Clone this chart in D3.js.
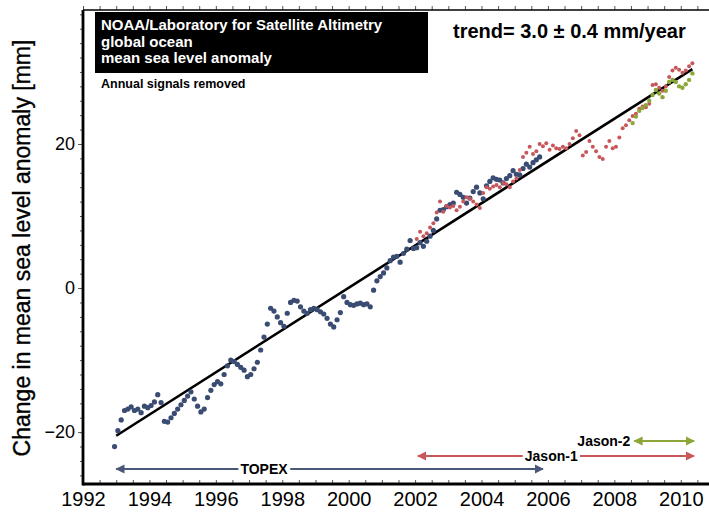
<!DOCTYPE html>
<html>
<head>
<meta charset="utf-8">
<script src="https://cdn.jsdelivr.net/npm/d3@7"></script>
<style>
  body { margin: 0; background: #fff; }
  svg { display: block; font-family: "Liberation Sans", Arial, sans-serif; }
</style>
</head>
<body>
<script>
// sampling of the altimetry series (every 0.1 year)
var step = 0.1;
var topexStart = 1992.95;
var topexValues = [-22.0, -19.8, -18.3, -17.0, -16.8, -16.5, -17.0, -16.8, -17.3, -16.4,
  -16.6, -16.3, -15.8, -14.8, -15.9, -18.5, -18.6, -18.0, -17.4, -16.8,
  -16.2, -15.6, -15.0, -14.4, -15.4, -16.4, -17.2, -16.8, -15.2, -14.2,
  -13.4, -13.0, -13.3, -12.0, -10.8, -10.0, -10.2, -10.6, -11.0, -11.4,
  -12.3, -12.0, -11.2, -10.3, -8.6, -6.8, -5.0, -2.8, -3.2, -4.0,
  -4.8, -5.3, -3.5, -2.0, -1.7, -1.8, -2.6, -3.2, -3.5, -3.0,
  -2.8, -3.0, -3.3, -3.6, -4.2, -5.0, -5.4, -4.4, -3.4, -1.2,
  -2.0, -2.3, -2.4, -2.2, -2.1, -2.3, -2.2, -2.6, -0.3, 1.0,
  1.6, 2.1, 2.8, 3.8, 4.3, 4.4, 3.6, 4.8, 5.4, 6.6,
  5.5, 5.6, 6.3, 5.8, 6.5, 7.2, 8.0, 9.6, 10.8, 10.9,
  11.3, 11.6, 11.8, 13.3, 13.0, 12.6, 11.8, 12.5, 13.4, 14.0,
  13.2, 12.4, 14.2, 14.8, 15.3, 15.1, 15.0, 14.6, 15.2, 15.6,
  16.3, 15.8, 15.7, 16.6, 17.2, 16.8, 17.4, 17.8, 18.2];

var jason1Start = 2002.05;
var jason1Values = [6.8, 7.8, 7.2, 7.6, 8.4, 9.0, 10.5, 12.0, 10.6, 11.4,
  11.2, 11.4, 10.8, 11.3, 12.0, 12.6, 12.4, 12.0, 11.6, 11.1,
  13.2, 14.0, 13.8, 14.1, 14.3, 14.0, 14.6, 14.4, 14.0, 14.8,
  15.2, 16.4, 18.2, 18.8, 19.6, 18.6, 19.0, 20.0, 19.7, 20.1,
  19.2, 19.8, 19.4, 19.3, 19.6, 19.4, 20.0, 20.8, 21.8, 21.2,
  18.4, 18.9, 20.4, 19.6, 19.0, 18.2, 17.9, 19.6, 20.4, 19.4,
  19.6, 20.9, 22.2, 22.6, 23.3, 23.9, 24.2, 24.9, 25.2, 25.1,
  25.6, 28.2, 28.3, 27.8, 27.4, 28.0, 29.3, 30.2, 30.6, 30.3,
  29.9, 30.2, 30.8, 31.2];

var jason2Start = 2008.55;
var jason2Values = [22.9, 23.8, 24.6, 25.0, 25.4, 26.0, 26.8, 27.5, 27.0, 26.5,
  27.4, 28.6, 28.9, 28.6, 28.0, 27.8, 28.3, 28.9, 29.8];

// linear trend end points
var trendYears = [1993.0, 2010.35];
var trendValues = [-20.5, 30.4];

// mission spans for the arrows
var missions = ["TOPEX", "Jason-1", "Jason-2"];
var missionSpans = [[1993.0, 2005.85], [2002.08, 2010.4], [2008.6, 2010.4]];

var xTicks = [1992, 1994, 1996, 1998, 2000, 2002, 2004, 2006, 2008, 2010];
var yTicks = [-20, 0, 20];

var titleLines = ["NOAA/Laboratory for Satellite Altimetry", "global ocean", "mean sea level anomaly"];

var W = 709, H = 512;
var svg = d3.select("body").append("svg")
    .attr("width", W)
    .attr("height", H);

var x = d3.scaleLinear().domain([1992, 2010.85]).range([83, 709]);
var y = d3.scaleLinear().domain([-27.2, 38.6]).range([484, 10]);

var blue = "#3a4c72", red = "#c8575b", green = "#8ca63a";

function series(start, vals) {
  return vals.map(function(v, i) { return {t: start + i * step, v: v}; });
}

// trend line
svg.append("line")
    .attr("x1", x(trendYears[0])).attr("y1", y(trendValues[0]))
    .attr("x2", x(trendYears[1])).attr("y2", y(trendValues[1]))
    .attr("stroke", "#000")
    .attr("stroke-width", 2.6);

// dots
svg.append("g").selectAll("circle")
  .data(series(topexStart, topexValues))
  .enter().append("circle")
    .attr("cx", function(d) { return x(d.t); })
    .attr("cy", function(d) { return y(d.v); })
    .attr("r", 2.6)
    .attr("fill", blue);

svg.append("g").selectAll("circle")
  .data(series(jason1Start, jason1Values))
  .enter().append("circle")
    .attr("cx", function(d) { return x(d.t); })
    .attr("cy", function(d) { return y(d.v); })
    .attr("r", 2.0)
    .attr("fill", red);

svg.append("g").selectAll("circle")
  .data(series(jason2Start, jason2Values))
  .enter().append("circle")
    .attr("cx", function(d) { return x(d.t); })
    .attr("cy", function(d) { return y(d.v); })
    .attr("r", 2.2)
    .attr("fill", green);

// axes
var minorX = d3.range(1992, 2011, 0.5);
var minorY = d3.range(-26, 39, 2);

svg.append("g")
    .attr("transform", "translate(0," + y.range()[0] + ")")
    .call(d3.axisBottom(x).tickValues(minorX).tickSize(-4).tickFormat(""))
    .call(function(g) { g.select(".domain").remove(); });

svg.append("g")
    .attr("transform", "translate(0," + y.range()[0] + ")")
    .call(d3.axisBottom(x).tickValues(xTicks).tickSize(0).tickPadding(8).tickFormat(d3.format("d")))
    .call(function(g) {
      g.select(".domain").remove();
      g.selectAll("text").attr("font-size", 20).attr("fill", "#000").attr("font-family", "Liberation Sans, Arial, sans-serif");
    });

svg.append("g")
    .attr("transform", "translate(0," + y.range()[1] + ")")
    .call(d3.axisTop(x).tickValues(minorX).tickSize(4).tickFormat(""))
    .call(function(g) { g.select(".domain").remove(); });

svg.append("g")
    .attr("transform", "translate(" + x.range()[0] + ",0)")
    .call(d3.axisLeft(y).tickValues(minorY).tickSize(3).tickFormat(""))
    .call(function(g) { g.select(".domain").remove(); });

svg.append("g")
    .attr("transform", "translate(" + x.range()[0] + ",0)")
    .call(d3.axisLeft(y).tickValues(yTicks).tickSize(5).tickPadding(3))
    .call(function(g) {
      g.select(".domain").remove();
      g.selectAll("text").attr("font-size", 18).attr("fill", "#000").attr("font-family", "Liberation Sans, Arial, sans-serif");
    });

svg.selectAll(".tick line").attr("stroke", "#555");

// frame lines
svg.append("line")
    .attr("x1", x.range()[0]).attr("x2", W)
    .attr("y1", y.range()[1]).attr("y2", y.range()[1])
    .attr("stroke", "#000").attr("stroke-width", 1.5);
svg.append("line")
    .attr("x1", x.range()[0]).attr("x2", W)
    .attr("y1", y.range()[0]).attr("y2", y.range()[0])
    .attr("stroke", "#000").attr("stroke-width", 2.8);
svg.append("line")
    .attr("x1", x.range()[0]).attr("x2", x.range()[0])
    .attr("y1", y.range()[1]).attr("y2", y.range()[0] + 1.4)
    .attr("stroke", "#000").attr("stroke-width", 2.8);

// y label
svg.append("text")
    .attr("transform", "translate(30," + 248 + ")rotate(-90)")
    .attr("text-anchor", "middle")
    .attr("font-size", 23)
    .attr("fill", "#000")
    .attr("stroke", "#000")
    .attr("stroke-width", 0.35)
    .text("Change in mean sea level anomaly [mm]");

// title box
svg.append("rect")
    .attr("x", 95).attr("y", 12)
    .attr("width", 333).attr("height", 61)
    .attr("fill", "#000");
svg.append("g").selectAll("text")
  .data(titleLines)
  .enter().append("text")
    .attr("x", 101)
    .attr("y", function(d, i) { return 30 + i * 16.5; })
    .attr("font-size", 15)
    .attr("font-weight", "bold")
    .attr("fill", "#fff")
    .text(function(d) { return d; });

svg.append("text")
    .attr("x", 101).attr("y", 88)
    .attr("font-size", 12.5)
    .attr("font-weight", "bold")
    .attr("fill", "#000")
    .text("Annual signals removed");

svg.append("text")
    .attr("x", 453).attr("y", 38)
    .attr("font-size", 20)
    .attr("font-weight", "bold")
    .attr("fill", "#000")
    .text("trend= 3.0 \u00b1 0.4 mm/year");

// mission arrows
var defs = svg.append("defs");
var arrowColors = ["#4a5878", "#c8585c", "#8ca63a"];
arrowColors.forEach(function(c, i) {
  defs.append("marker")
      .attr("id", "ah" + i)
      .attr("viewBox", "0 0 10 10")
      .attr("refX", 9).attr("refY", 5)
      .attr("markerWidth", 4.2).attr("markerHeight", 4.2)
      .attr("orient", "auto-start-reverse")
      .append("path")
      .attr("d", "M0,0L10,5L0,10Z")
      .attr("fill", c);
});

var arrowY = [469, 456, 441];
var labelX = [1997.45, 2006.1, 2006.2];

missions.forEach(function(m, i) {
  var g = svg.append("g");
  var x0 = x(missionSpans[i][0]), x1 = x(missionSpans[i][1]);
  g.append("line")
      .attr("x1", x0).attr("x2", x1)
      .attr("y1", arrowY[i]).attr("y2", arrowY[i])
      .attr("stroke", arrowColors[i])
      .attr("stroke-width", 2.2)
      .attr("marker-start", "url(#ah" + i + ")")
      .attr("marker-end", "url(#ah" + i + ")");
  var lx = i === 2 ? x(missionSpans[i][0]) - 4 : x(labelX[i]);
  var t = g.append("text")
      .attr("x", lx)
      .attr("y", arrowY[i] + 5)
      .attr("text-anchor", i === 2 ? "end" : "middle")
      .attr("font-size", 14)
      .attr("font-weight", "bold")
      .attr("fill", "#000")
      .text(m);
  if (i < 2) {
    var bb = t.node().getBBox();
    g.insert("rect", "text")
        .attr("x", bb.x - 2).attr("y", arrowY[i] - 3)
        .attr("width", bb.width + 4).attr("height", 6)
        .attr("fill", "#fff");
  }
});
</script>
</body>
</html>
